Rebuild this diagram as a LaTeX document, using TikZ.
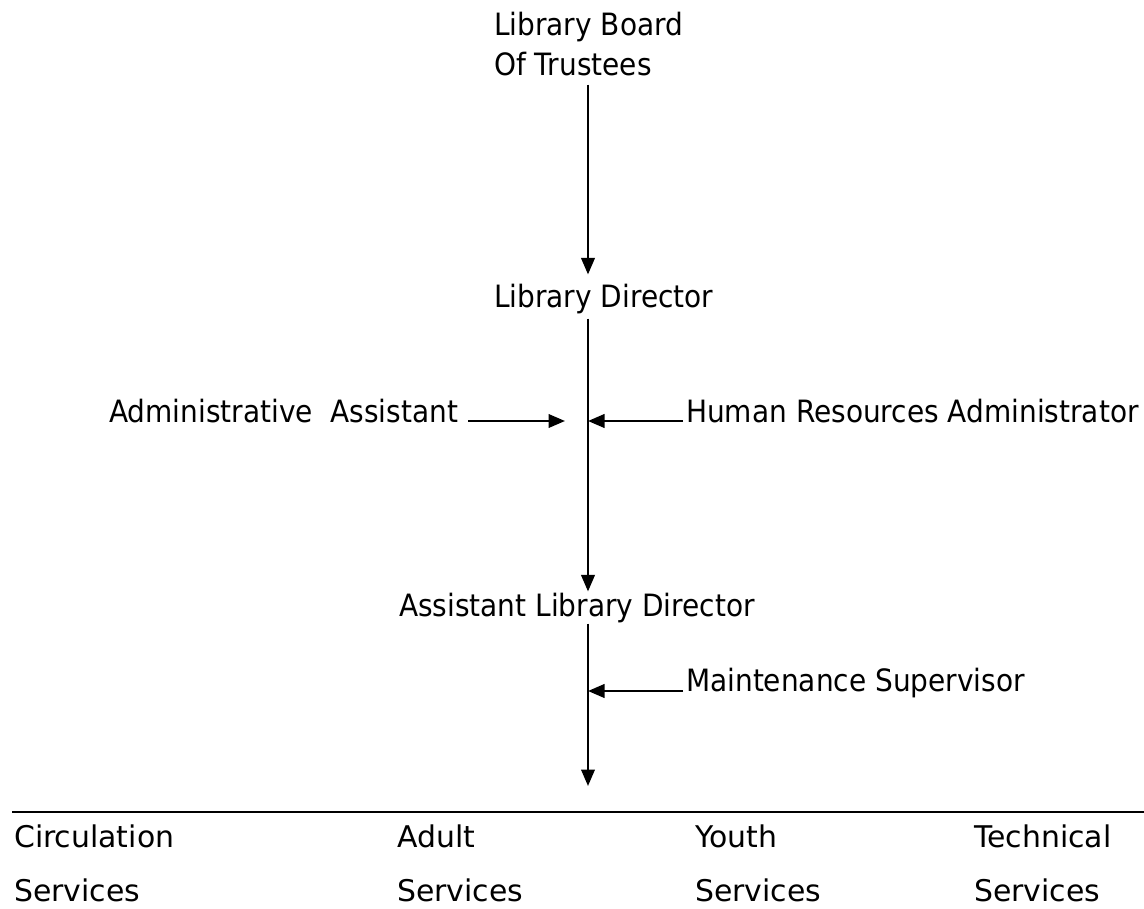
\documentclass[tikz,border=0pt]{standalone}
\usepackage{fontspec}
\setmainfont{DejaVu Sans}
\newfontfamily\narrowfont[FakeStretch=0.91]{DejaVu Sans}
\usetikzlibrary{positioning}
\usetikzlibrary{arrows.meta}

\begin{document}
\begin{tikzpicture}[x=0.2mm, y=-0.2mm,
        >={Triangle[length=3.3mm,width=2.7mm]},
        line width=1.35pt,
        unit/.style={
        inner sep=0pt,
        anchor=base west,
        align=left,
        font=\narrowfont\fontsize{17.5}{22.2}\selectfont},
        dept/.style={
        inner sep=0pt,
        anchor=base west,
        align=left,
        font=\fontsize{17}{30.7}\selectfont},
        feed/.style={->, draw=black}]

        \useasboundingbox (0,0) rectangle (1144,909);
        \coordinate (S) at (588,0); % spine of the chart

        % base of a two-line node is its last line
        \node[unit] (B)  at (493,75)  {Library Board\\Of Trustees};
        \node[unit] (D)  at (493,307) {Library Director};
        \node[unit] (AA) at (108,422) {Administrative\ \ Assistant};
        \node[unit] (HR) at (685,422) {Human Resources Administrator};
        \node[unit] (AD) at (398,616) {Assistant Library Director};
        \node[unit] (M)  at (685,691) {Maintenance Supervisor};

        \coordinate (L) at (12,812);
        \coordinate (R) at (1144,812);
        \draw[line width=1.6pt] (L) -- (R);

        \node[dept] (C1) at (13,901)  {Circulation\\Services};
        \node[dept] (C2) at (396,901) {Adult\\Services};
        \node[dept] (C3) at (694,901) {Youth\\Services};
        \node[dept] (C4) at (973,901) {Technical\\Services};

        \path (B.south -| S) edge [feed, shorten <=1.6mm, shorten >=1.6mm] (D.north -| S); % board->director
        \path (D.south -| S) edge [feed, shorten <=0.8mm] (AD.north -| S);
        \path ([xshift=1.8mm,yshift=0.2mm]AA.base east) edge [feed, shorten >=4.6mm] ([yshift=0.2mm]AA.base east -| S);
        \path ([yshift=0.2mm]HR.base west) edge [feed, shorten <=0.4mm] ([yshift=0.2mm]HR.base west -| S);
        \path (AD.south -| S) edge [feed, shorten >=5.2mm] (L -| S); % down to the services
        \path (M.base west) edge [feed, shorten <=0.4mm] (M.base west -| S);
\end{tikzpicture}
\end{document}
